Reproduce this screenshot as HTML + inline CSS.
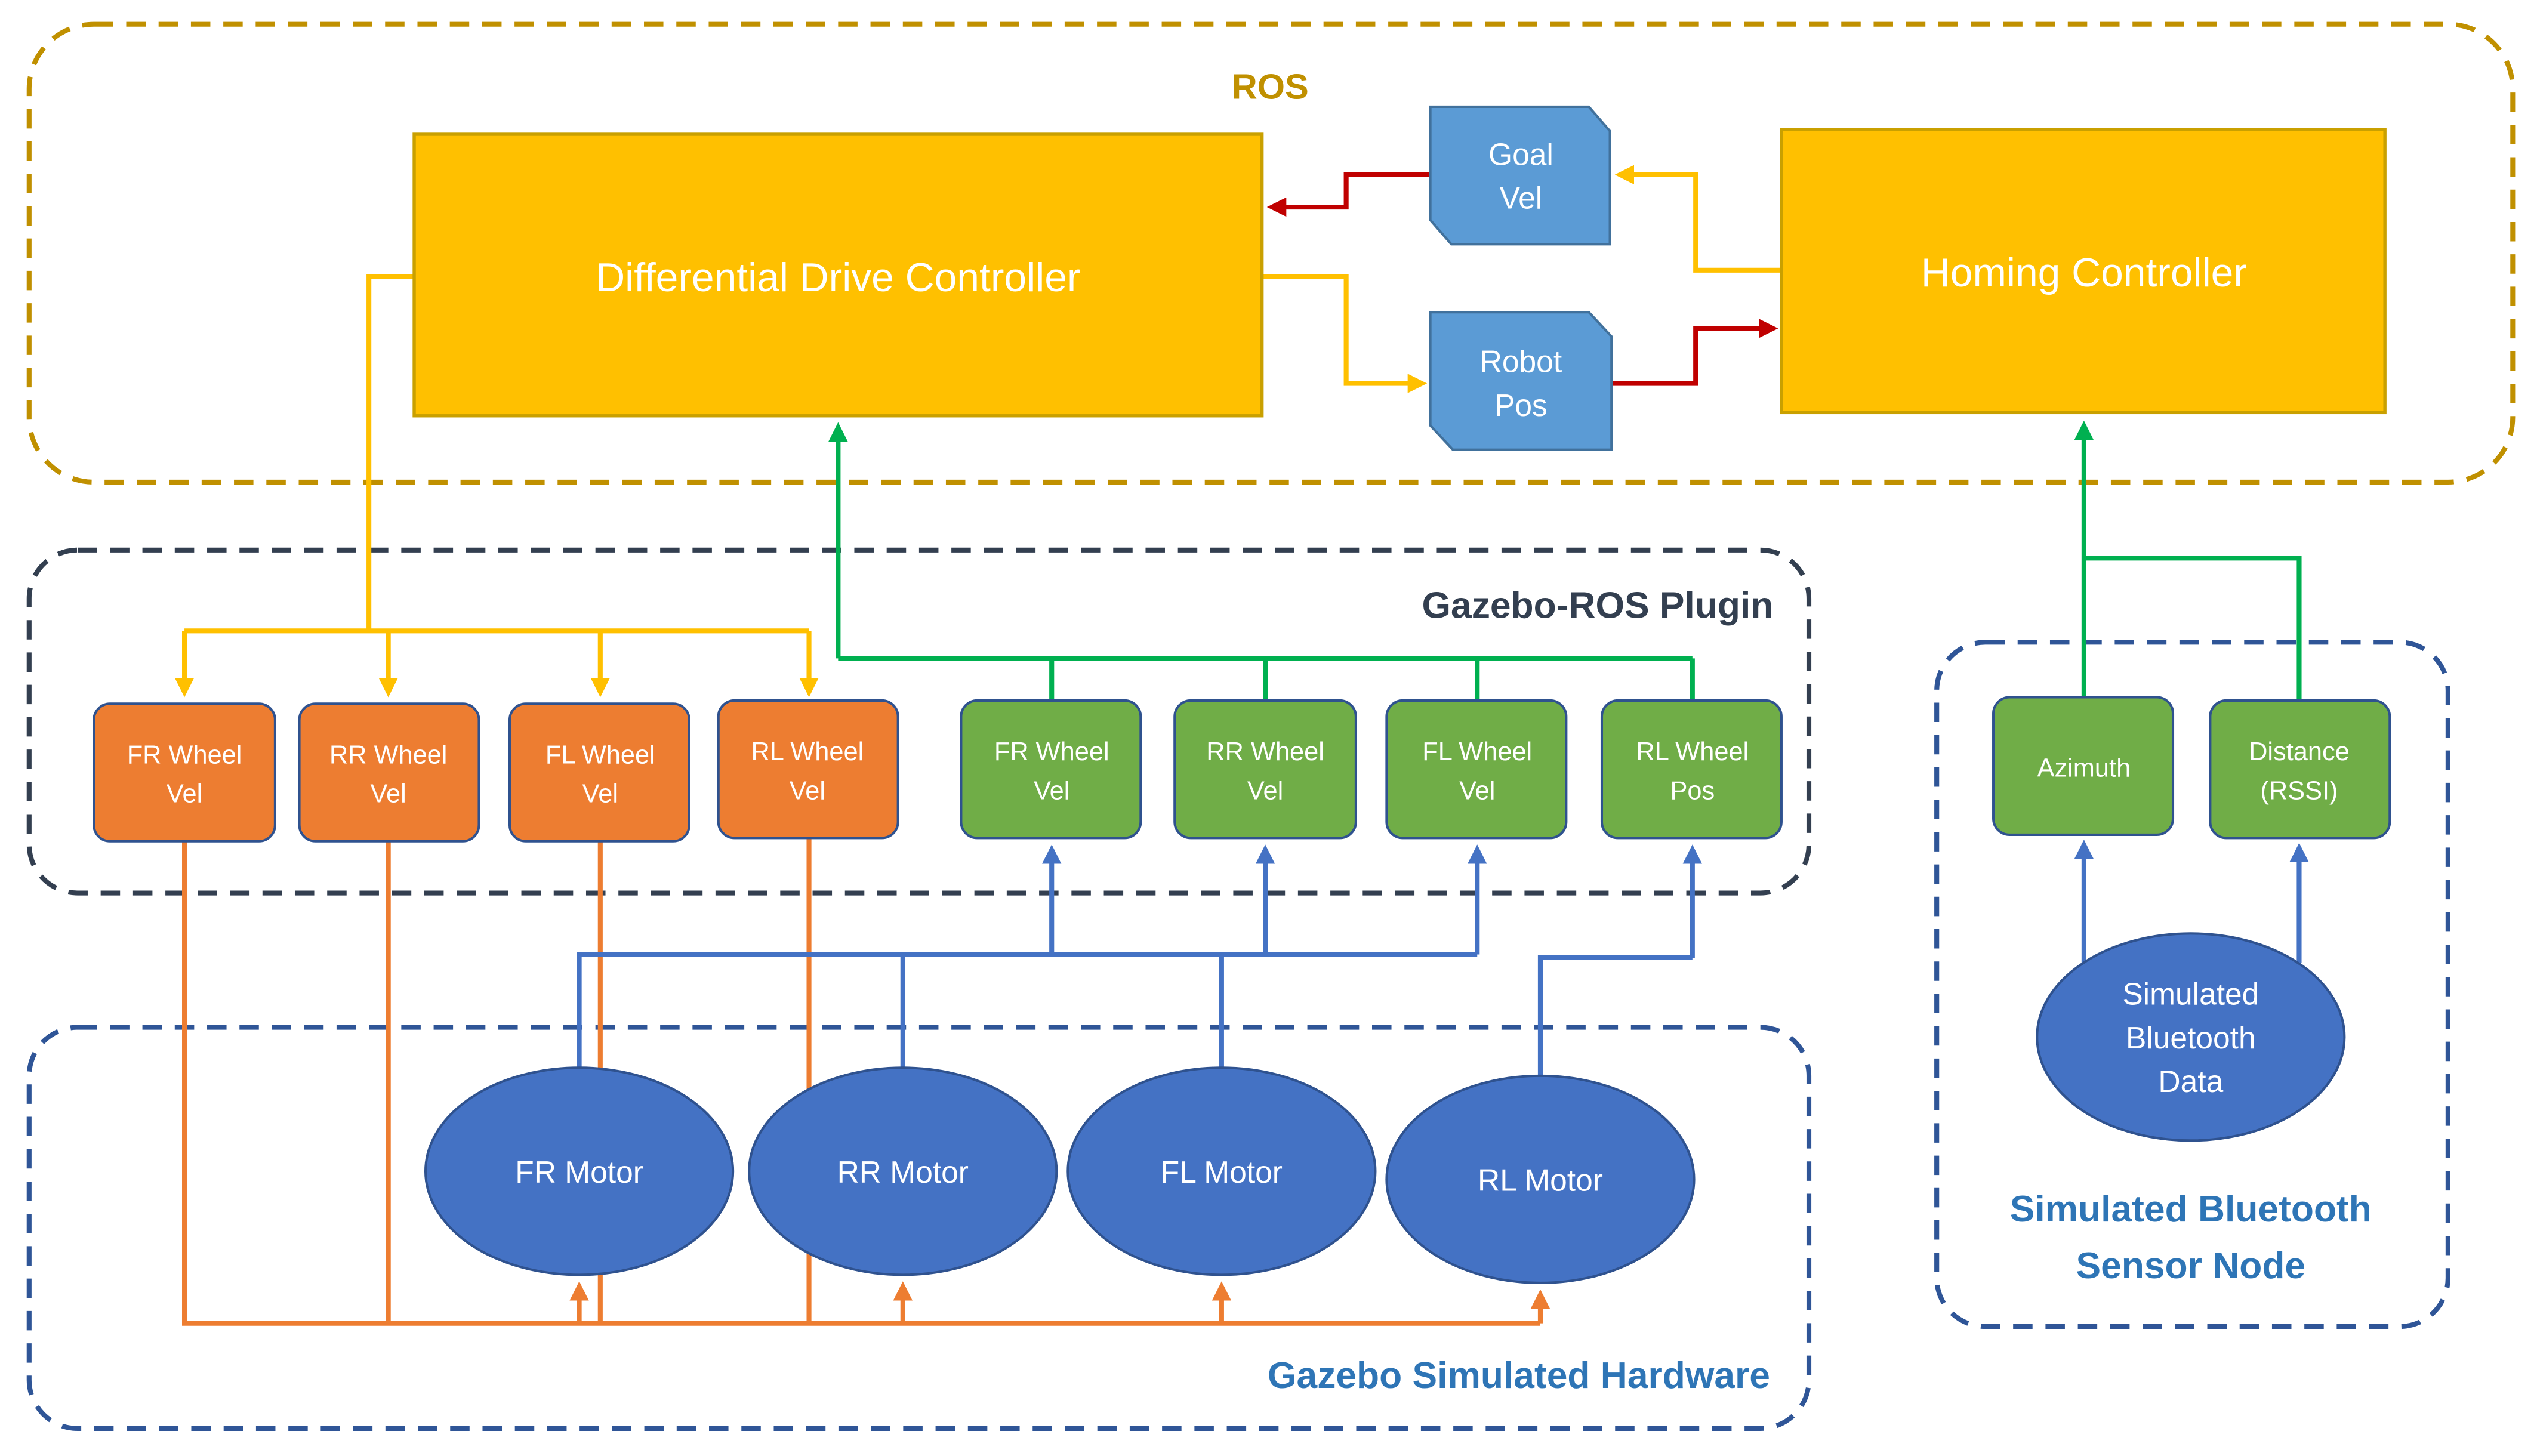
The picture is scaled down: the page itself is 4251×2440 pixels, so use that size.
<!DOCTYPE html>
<html><head><meta charset="utf-8"><style>html,body{margin:0;padding:0;background:#fff}svg{display:block}</style></head>
<body>
<svg width="4251" height="2440" viewBox="0 0 1568 900" xmlns="http://www.w3.org/2000/svg" font-family="Liberation Sans, sans-serif">
<defs>
<marker id="ay" markerWidth="4" markerHeight="4" refX="3" refY="2" orient="auto" markerUnits="strokeWidth"><path d="M0,0 L4,2 L0,4z" fill="#FFC000"/></marker>
<marker id="ar" markerWidth="4" markerHeight="4" refX="3" refY="2" orient="auto" markerUnits="strokeWidth"><path d="M0,0 L4,2 L0,4z" fill="#C00000"/></marker>
<marker id="ag" markerWidth="4" markerHeight="4" refX="3" refY="2" orient="auto" markerUnits="strokeWidth"><path d="M0,0 L4,2 L0,4z" fill="#00B050"/></marker>
<marker id="ab" markerWidth="4" markerHeight="4" refX="3" refY="2" orient="auto" markerUnits="strokeWidth"><path d="M0,0 L4,2 L0,4z" fill="#4472C4"/></marker>
<marker id="ao" markerWidth="4" markerHeight="4" refX="3" refY="2" orient="auto" markerUnits="strokeWidth"><path d="M0,0 L4,2 L0,4z" fill="#ED7D31"/></marker>
</defs>
<!-- containers -->
<rect x="18" y="15" width="1535" height="283" rx="40" fill="none" stroke="#C09000" stroke-width="3" stroke-dasharray="12,8"/>
<rect x="18" y="340" width="1100" height="212" rx="30" fill="none" stroke="#333F50" stroke-width="3" stroke-dasharray="12,8"/>
<rect x="18" y="635" width="1100" height="248" rx="30" fill="none" stroke="#2F5597" stroke-width="3" stroke-dasharray="12,8"/>
<rect x="1197" y="397" width="316" height="423" rx="30" fill="none" stroke="#2F5597" stroke-width="3" stroke-dasharray="12,8"/>
<text x="785" y="61" text-anchor="middle" font-size="22" font-weight="bold" fill="#C09000">ROS</text>
<text x="1096" y="382" text-anchor="end" font-size="23" font-weight="bold" fill="#333F50">Gazebo-ROS Plugin</text>
<text x="1094" y="858" text-anchor="end" font-size="23" font-weight="bold" fill="#2E75B6">Gazebo Simulated Hardware</text>
<text x="1354" y="755" text-anchor="middle" font-size="23" font-weight="bold" fill="#2E75B6">Simulated Bluetooth</text>
<text x="1354" y="790" text-anchor="middle" font-size="23" font-weight="bold" fill="#2E75B6">Sensor Node</text>

<!-- ROS connectors -->
<g fill="none" stroke-width="3">
<path d="M884,108 H832 V128 H786" stroke="#C00000" marker-end="url(#ar)"/>
<path d="M1101,167 H1048 V108 H1001" stroke="#FFC000" marker-end="url(#ay)"/>
<path d="M780,171 H832 V237 H879" stroke="#FFC000" marker-end="url(#ay)"/>
<path d="M996,237 H1048 V203 H1096" stroke="#C00000" marker-end="url(#ar)"/>
<path d="M256,171 H228 V390" stroke="#FFC000"/>
<path d="M114,390 H500" stroke="#FFC000"/>
<path d="M114,390 V428" stroke="#FFC000" marker-end="url(#ay)"/>
<path d="M240,390 V428" stroke="#FFC000" marker-end="url(#ay)"/>
<path d="M371,390 V428" stroke="#FFC000" marker-end="url(#ay)"/>
<path d="M500,390 V428" stroke="#FFC000" marker-end="url(#ay)"/>
<path d="M518,407 V264" stroke="#00B050" marker-end="url(#ag)"/>
<path d="M518,407 H1046 M650,407 V433 M782,407 V433 M913,407 V433 M1046,407 V433" stroke="#00B050"/>
<path d="M1288,431 V263" stroke="#00B050" marker-end="url(#ag)"/>
<path d="M1288,345 H1421 V433" stroke="#00B050"/>
<!-- orange lines -->
<path d="M114,520 V818 H952 M240,520 V818 M371,520 V818 M500,518 V818" stroke="#ED7D31"/>
<path d="M358,818 V795" stroke="#ED7D31" marker-end="url(#ao)"/>
<path d="M558,818 V795" stroke="#ED7D31" marker-end="url(#ao)"/>
<path d="M755,818 V795" stroke="#ED7D31" marker-end="url(#ao)"/>
<path d="M952,818 V800" stroke="#ED7D31" marker-end="url(#ao)"/>
<!-- blue lines -->
<path d="M358,660 V590 H913 M558,590 V660 M755,590 V660 M952,665 V592 H1046" stroke="#4472C4"/>
<path d="M650,590 V525" stroke="#4472C4" marker-end="url(#ab)"/>
<path d="M782,590 V525" stroke="#4472C4" marker-end="url(#ab)"/>
<path d="M913,590 V525" stroke="#4472C4" marker-end="url(#ab)"/>
<path d="M1046,592 V525" stroke="#4472C4" marker-end="url(#ab)"/>
<path d="M1288,595 V522" stroke="#4472C4" marker-end="url(#ab)"/>
<path d="M1421,595 V524" stroke="#4472C4" marker-end="url(#ab)"/>
</g>

<!-- ROS boxes -->
<rect x="256" y="83" width="524" height="174" fill="#FFC000" stroke="#C9A000" stroke-width="2"/>
<text x="518" y="180" text-anchor="middle" font-size="25" fill="#fff">Differential Drive Controller</text>
<rect x="1101" y="80" width="373" height="175" fill="#FFC000" stroke="#C9A000" stroke-width="2"/>
<text x="1288" y="177" text-anchor="middle" font-size="25" fill="#fff">Homing Controller</text>
<path d="M884,66 H982 L995,81 V151 H897 L884,136 Z" fill="#5B9BD5" stroke="#41719C" stroke-width="1.5"/>
<text x="940" y="102" text-anchor="middle" font-size="19" fill="#fff">Goal</text>
<text x="940" y="129" text-anchor="middle" font-size="19" fill="#fff">Vel</text>
<path d="M884,193 H982 L996,208 V278 H898 L884,263 Z" fill="#5B9BD5" stroke="#41719C" stroke-width="1.5"/>
<text x="940" y="230" text-anchor="middle" font-size="19" fill="#fff">Robot</text>
<text x="940" y="257" text-anchor="middle" font-size="19" fill="#fff">Pos</text>

<!-- plugin boxes -->
<g stroke="#2F528F" stroke-width="1.5" font-size="16" fill="#fff" text-anchor="middle">
<rect x="58" y="435" width="112" height="85" rx="10" fill="#ED7D31"/>
<rect x="185" y="435" width="111" height="85" rx="10" fill="#ED7D31"/>
<rect x="315" y="435" width="111" height="85" rx="10" fill="#ED7D31"/>
<rect x="444" y="433" width="111" height="85" rx="10" fill="#ED7D31"/>
<rect x="594" y="433" width="111" height="85" rx="10" fill="#70AD47"/>
<rect x="726" y="433" width="112" height="85" rx="10" fill="#70AD47"/>
<rect x="857" y="433" width="111" height="85" rx="10" fill="#70AD47"/>
<rect x="990" y="433" width="111" height="85" rx="10" fill="#70AD47"/>
<rect x="1232" y="431" width="111" height="85" rx="10" fill="#70AD47"/>
<rect x="1366" y="433" width="111" height="85" rx="10" fill="#70AD47"/>
</g>
<g font-size="16" fill="#fff" text-anchor="middle">
<text x="114" y="472">FR Wheel</text><text x="114" y="496">Vel</text>
<text x="240" y="472">RR Wheel</text><text x="240" y="496">Vel</text>
<text x="371" y="472">FL Wheel</text><text x="371" y="496">Vel</text>
<text x="499" y="470">RL Wheel</text><text x="499" y="494">Vel</text>
<text x="650" y="470">FR Wheel</text><text x="650" y="494">Vel</text>
<text x="782" y="470">RR Wheel</text><text x="782" y="494">Vel</text>
<text x="913" y="470">FL Wheel</text><text x="913" y="494">Vel</text>
<text x="1046" y="470">RL Wheel</text><text x="1046" y="494">Pos</text>
<text x="1288" y="480">Azimuth</text>
<text x="1421" y="470">Distance</text><text x="1421" y="494">(RSSI)</text>
</g>

<!-- motors -->
<g fill="#4472C4" stroke="#2F528F" stroke-width="1.5">
<ellipse cx="358" cy="724" rx="95" ry="64"/>
<ellipse cx="558" cy="724" rx="95" ry="64"/>
<ellipse cx="755" cy="724" rx="95" ry="64"/>
<ellipse cx="952" cy="729" rx="95" ry="64"/>
<ellipse cx="1354" cy="641" rx="95" ry="64"/>
</g>
<g font-size="19" fill="#fff" text-anchor="middle">
<text x="358" y="731">FR Motor</text>
<text x="558" y="731">RR Motor</text>
<text x="755" y="731">FL Motor</text>
<text x="952" y="736">RL Motor</text>
<text x="1354" y="621">Simulated</text>
<text x="1354" y="648">Bluetooth</text>
<text x="1354" y="675">Data</text>
</g>
</svg>
</body></html>
